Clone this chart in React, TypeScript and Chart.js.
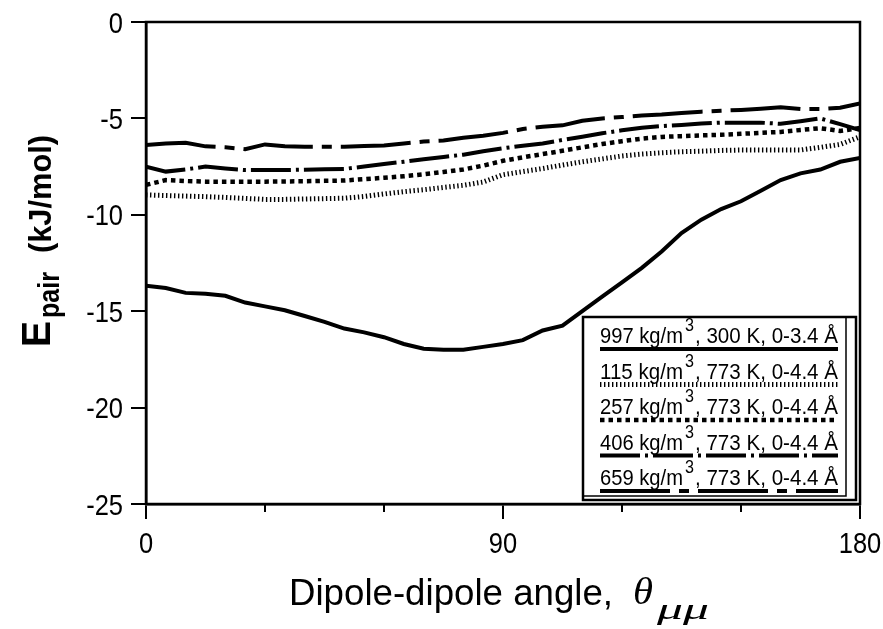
import React, { useEffect, useRef } from 'react';
import { Chart, registerables } from 'chart.js';

Chart.register(...registerables);

// ---- data ----
const angles = [0, 5, 10, 15, 20, 25, 30, 35, 40, 45, 50, 55, 60, 65, 70, 75, 80, 85, 90,
  95, 100, 105, 110, 115, 120, 125, 130, 135, 140, 145, 150, 155, 160, 165, 170, 175, 180];

const e997 = [-13.68, -13.8, -14.05, -14.1, -14.2, -14.55, -14.75, -14.95, -15.25, -15.55, -15.9, -16.1, -16.35,
  -16.7, -16.95, -17.0, -17.0, -16.85, -16.7, -16.5, -16.0, -15.75, -15.0, -14.25, -13.5, -12.75, -11.9,
  -10.95, -10.25, -9.7, -9.3, -8.75, -8.2, -7.85, -7.65, -7.25, -7.05];

const e115 = [-8.97, -9.0, -9.03, -9.06, -9.1, -9.15, -9.2, -9.2, -9.18, -9.16, -9.14, -9.05, -8.92, -8.8, -8.7,
  -8.58, -8.47, -8.3, -7.92, -7.76, -7.6, -7.42, -7.25, -7.1, -6.95, -6.85, -6.78, -6.73, -6.7, -6.66, -6.64,
  -6.64, -6.64, -6.64, -6.5, -6.35, -5.95];

const e257 = [-8.45, -8.2, -8.25, -8.28, -8.28, -8.28, -8.28, -8.27, -8.26, -8.24, -8.22, -8.15, -8.08, -8.0,
  -7.9, -7.78, -7.65, -7.45, -7.2, -7.02, -6.85, -6.68, -6.5, -6.33, -6.18, -6.05, -5.96, -5.92, -5.88, -5.85,
  -5.8, -5.75, -5.7, -5.6, -5.51, -5.65, -5.5];

const e406 = [-7.5, -7.76, -7.65, -7.5, -7.6, -7.68, -7.68, -7.68, -7.66, -7.64, -7.62, -7.5, -7.36, -7.25,
  -7.12, -7.0, -6.88, -6.7, -6.55, -6.42, -6.3, -6.12, -5.95, -5.77, -5.62, -5.48, -5.4, -5.34, -5.27, -5.22,
  -5.22, -5.22, -5.28, -5.15, -5.0, -5.3, -5.6];

const e659 = [-6.38, -6.3, -6.26, -6.45, -6.5, -6.6, -6.35, -6.45, -6.47, -6.47, -6.47, -6.43, -6.4, -6.3,
  -6.2, -6.15, -6.0, -5.9, -5.75, -5.55, -5.43, -5.36, -5.12, -5.0, -4.93, -4.85, -4.8, -4.72, -4.65, -4.6,
  -4.56, -4.5, -4.42, -4.51, -4.51, -4.45, -4.22];

const densities = ['997', '115', '257', '406', '659'];
const temperatures = ['300', '773', '773', '773', '773'];
const cutoffs = ['0-3.4', '0-4.4', '0-4.4', '0-4.4', '0-4.4'];

const xTickValues = [0, 90, 180];
const xMinorTicks = [30, 60, 120, 150];
const yTickStep = 5;

const yTitleMain = 'E';
const yTitleSub = 'pair';
const yTitleUnit = '(kJ/mol)';
const xTitleMain = 'Dipole-dipole angle,';
const xTitleSym = 'θ';
const xTitleSub = 'μμ';

// ---- styles ----
const seriesValues = [e997, e115, e257, e406, e659];
const seriesStyles = [
  { width: 4, dash: [] as number[] },
  { width: 5, dash: [1.4, 2.6] },
  { width: 4.5, dash: [4.5, 4] },
  { width: 4, dash: [40, 5, 3, 5] },
  { width: 4, dash: [70, 9, 10, 9] },
];

const SANS = '"Liberation Sans", Arial, sans-serif';

function drawFit(ctx: CanvasRenderingContext2D, text: string, x: number, y: number, target: number, sxFixed = 1) {
  const w = ctx.measureText(text).width;
  const sx = target > 0 ? target / w : sxFixed;
  ctx.save();
  ctx.translate(x, y);
  ctx.scale(sx, 1);
  ctx.fillText(text, 0, 0);
  ctx.restore();
  return w * sx;
}

const overlayPlugin = {
  id: 'overlay',
  afterDraw(chart: any) {
    const { ctx, chartArea: a, scales } = chart;
    const xs = scales.x;
    const ys = scales.y;
    ctx.save();
    ctx.strokeStyle = '#000';
    ctx.fillStyle = '#000';
    // frame
    ctx.lineWidth = 2.5;
    ctx.setLineDash([]);
    ctx.strokeRect(a.left, a.top, a.right - a.left, a.bottom - a.top);
    // minor x ticks
    ctx.lineWidth = 2;
    xMinorTicks.forEach((v) => {
      const px = xs.getPixelForValue(v);
      ctx.beginPath();
      ctx.moveTo(px, a.bottom);
      ctx.lineTo(px, a.bottom + 8);
      ctx.stroke();
    });

    // tick labels (from the library's scales)
    ctx.textBaseline = 'alphabetic';
    ctx.font = '30px ' + SANS;
    const tsx = 0.85;
    xs.ticks.forEach((t: any) => {
      const px = xs.getPixelForValue(t.value);
      const label = String(t.value);
      const w = ctx.measureText(label).width * tsx;
      drawFit(ctx, label, px - w / 2, 553, 0, tsx);
    });
    ys.ticks.forEach((t: any) => {
      const py = ys.getPixelForValue(t.value);
      const label = String(t.value);
      const w = ctx.measureText(label).width * tsx;
      drawFit(ctx, label, 123 - w, py + 10.5, 0, tsx);
    });

    // x title
    ctx.textAlign = 'left';
    ctx.font = '37px ' + SANS;
    drawFit(ctx, xTitleMain, 289, 605, 324);
    ctx.font = 'italic 37px "Liberation Serif", serif';
    drawFit(ctx, xTitleSym, 633, 604, 20);
    ctx.font = 'italic 30px "Liberation Serif", serif';
    drawFit(ctx, xTitleSub, 657, 619, 52);

    // y title
    ctx.save();
    ctx.translate(50, 347);
    ctx.rotate(-Math.PI / 2);
    ctx.font = 'bold 40px ' + SANS;
    drawFit(ctx, yTitleMain, 0, 0, 26);
    ctx.font = 'bold 30px ' + SANS;
    drawFit(ctx, yTitleSub, 29, 9, 46);
    ctx.font = 'bold 31px ' + SANS;
    drawFit(ctx, yTitleUnit, 94, 1, 118);
    ctx.restore();

    // legend box
    ctx.lineWidth = 2.5;
    ctx.fillStyle = '#fff';
    ctx.fillRect(583, 317, 273, 183);
    ctx.strokeRect(583, 317, 273, 183);
    ctx.lineWidth = 1.5;
    ctx.beginPath();
    ctx.moveTo(846, 318);
    ctx.lineTo(846, 496);
    ctx.lineTo(584, 496);
    ctx.stroke();

    ctx.fillStyle = '#000';
    densities.forEach((d, i) => {
      const base = 343 + i * 35.5;
      ctx.font = '22px ' + SANS;
      const w1 = drawFit(ctx, d + ' kg/m', 600, base, 83);
      ctx.font = '19px ' + SANS;
      const w2 = drawFit(ctx, '3', 600 + w1 + 2, base - 12, 0, 0.85);
      ctx.font = '22px ' + SANS;
      const rest = ', ' + temperatures[i] + ' K, ' + cutoffs[i] + ' Å';
      const sx = 600 + w1 + 2 + w2 + 1;
      drawFit(ctx, rest, sx, base, 838 - sx);
      const st = seriesStyles[i];
      ctx.lineWidth = st.width;
      ctx.lineCap = 'butt';
      ctx.setLineDash(st.dash);
      ctx.beginPath();
      ctx.moveTo(600, base + 6);
      ctx.lineTo(838, base + 6);
      ctx.stroke();
      ctx.setLineDash([]);
    });
    ctx.restore();
  },
};

export default function App() {
  const ref = useRef<HTMLCanvasElement | null>(null);

  useEffect(() => {
    document.body.style.margin = '0';
    const datasets = seriesValues.map((vals, i) => ({
      label: densities[i],
      data: angles.map((a, j) => ({ x: a, y: vals[j] })),
      borderColor: '#000',
      backgroundColor: '#000',
      borderWidth: seriesStyles[i].width,
      borderDash: seriesStyles[i].dash,
      borderCapStyle: 'butt' as const,
      pointRadius: 0,
      tension: 0,
      fill: false,
    }));
    const chart = new Chart(ref.current as HTMLCanvasElement, {
      type: 'line',
      data: { datasets },
      plugins: [overlayPlugin],
      options: {
        responsive: false,
        animation: false,
        devicePixelRatio: 1,
        layout: { padding: { left: 0, top: 22, right: 23, bottom: 0 }, autoPadding: false },
        plugins: { legend: { display: false }, tooltip: { enabled: false } },
        scales: {
          x: {
            type: 'linear',
            min: 0,
            max: 180,
            afterFit: (s: any) => { s.height = 125; },
            afterBuildTicks: (s: any) => { s.ticks = xTickValues.map((v) => ({ value: v })); },
            ticks: { display: false },
            grid: { drawOnChartArea: false, drawTicks: true, tickLength: 15, lineWidth: 2, color: '#000' },
            border: { display: true, color: '#000', width: 2.5 },
          },
          y: {
            type: 'linear',
            min: -25,
            max: 0,
            afterFit: (s: any) => { s.width = 146; },
            ticks: { display: false, stepSize: yTickStep },
            grid: { drawOnChartArea: false, drawTicks: true, tickLength: 15, lineWidth: 2, color: '#000' },
            border: { display: true, color: '#000', width: 2.5 },
          },
        },
      },
    } as any);
    return () => chart.destroy();
  }, []);

  return (
    <div style={{ width: 883, height: 629 }}>
      <canvas ref={ref} width={883} height={629} style={{ display: 'block' }} />
    </div>
  );
}
